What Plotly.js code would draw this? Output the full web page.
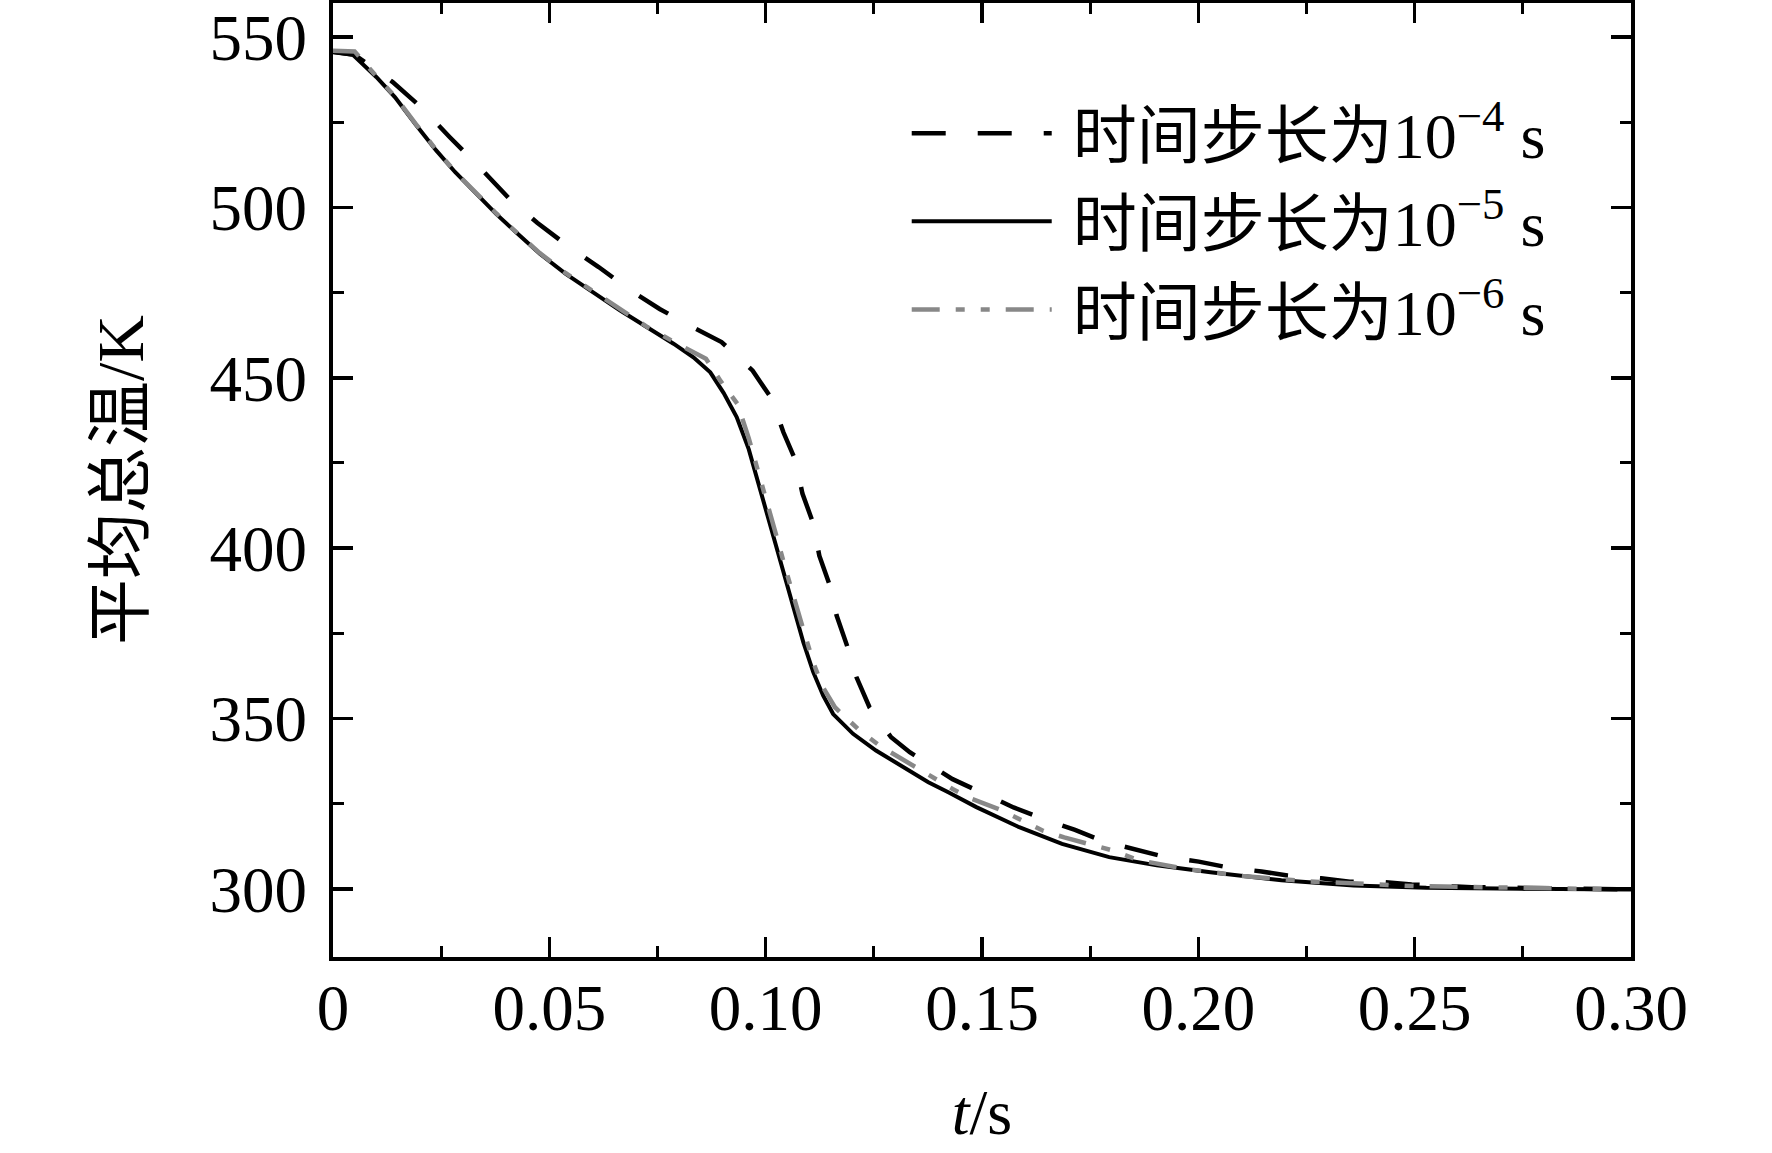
<!DOCTYPE html>
<html>
<head>
<meta charset="utf-8">
<script src="https://cdn.plot.ly/plotly-3.0.1.min.js"></script>
<style>
  html, body { margin: 0; padding: 0; background: #fff; }
  #chart { width: 1772px; height: 1153px; }
</style>
</head>
<body>
<div id="chart"></div>
<script>
// time step 1e-4 s (dashed)
const t4 = [0, 0.005, 0.0138, 0.0204, 0.027, 0.0335, 0.0408, 0.0472, 0.0547, 0.0614,
  0.0688, 0.0755, 0.0831, 0.0898, 0.097, 0.1014, 0.1041, 0.1069, 0.1085, 0.1109,
  0.1124, 0.1147, 0.1164, 0.1188, 0.121, 0.124, 0.129, 0.1333, 0.1432, 0.1499,
  0.1573, 0.1642, 0.1715, 0.1782, 0.1857, 0.1924, 0.2001, 0.2068, 0.2146, 0.2206,
  0.2284, 0.235, 0.2427, 0.2493, 0.2632, 0.28, 0.30];
const temp4 = [545.6, 544.8, 536.8, 529.4, 520.6, 512.3, 502.5, 495.5, 488.3, 482.5,
  475.6, 470.2, 464.9, 460.5, 452.1, 443.8, 434, 425.7, 416, 407.6,
  397.8, 389.5, 380.2, 371.4, 362.1, 353.3, 344.5, 340.1, 332.2, 328.3,
  323.9, 320.5, 317.3, 313.9, 311.4, 309.3, 308, 306.3, 305.1, 303.9,
  303.1, 302.1, 302, 301.3, 300.5, 300.2, 299.8];

// time step 1e-5 s (solid)
const t5 = [0, 0.0046, 0.01, 0.0143, 0.0192, 0.0238, 0.0282, 0.0331, 0.0377, 0.0423,
  0.0478, 0.0538, 0.0601, 0.0663, 0.0725, 0.0787, 0.0833, 0.0872, 0.0903, 0.0933,
  0.0961, 0.0995, 0.1018, 0.1041, 0.1064, 0.1087, 0.111, 0.1133, 0.1156, 0.1202,
  0.1255, 0.1309, 0.1376, 0.1421, 0.1487, 0.1586, 0.1685, 0.1794, 0.1904, 0.2028,
  0.2192, 0.2359, 0.2527, 0.2748, 0.30];
const temp5 = [545.6, 544.8, 538.3, 532.4, 524.2, 516.8, 510.4, 504, 498.1, 492.7,
  486.4, 480.5, 475.1, 469.8, 464.9, 460, 456, 451.6, 445.5, 438.5,
  429, 413.5, 403.7, 392.9, 382.2, 372.4, 363.6, 356.7, 351.3, 345.5,
  340.6, 336.6, 331.3, 328.4, 324, 318.1, 313.2, 309.3, 306.9, 304.9,
  302.5, 301, 300.3, 300, 299.8];

// time step 1e-6 s (grey dash-dot)
const t6 = [0, 0.005, 0.01, 0.0143, 0.0192, 0.0238, 0.0282, 0.0331, 0.0377, 0.0423,
  0.0478, 0.0538, 0.0601, 0.0663, 0.0725, 0.0803, 0.0862, 0.0896, 0.0935, 0.0961,
  0.0984, 0.0999, 0.1023, 0.1046, 0.1061, 0.1084, 0.111, 0.113, 0.116, 0.1217,
  0.1266, 0.1309, 0.137, 0.1432, 0.1477, 0.1539, 0.1586, 0.1642, 0.169, 0.1757,
  0.1801, 0.1862, 0.1973, 0.2102, 0.2252, 0.25, 0.275, 0.30];
const temp6 = [546, 545.8, 538.5, 532.6, 524.4, 517, 510.5, 504, 498.3, 492.8,
  486.6, 480.7, 475.3, 470, 465, 459.5, 455.6, 449, 442.3, 432.2,
  421.5, 414.4, 404.4, 393.9, 387, 377.4, 366.5, 359.7, 353.3, 346.5,
  341.8, 338.6, 333.7, 329.3, 326.4, 323.4, 320.5, 317, 315.1, 312.7,
  311.3, 308.4, 305.8, 303.8, 302.2, 300.8, 300.2, 299.8];

const seriesNames = [
  '\u00a0时间步长为10<sup>−4</sup> s',
  '\u00a0时间步长为10<sup>−5</sup> s',
  '\u00a0时间步长为10<sup>−6</sup> s'
];

const xTickVals = [0, 0.05, 0.10, 0.15, 0.20, 0.25, 0.30];
const xTickText = ['0', '0.05', '0.10', '0.15', '0.20', '0.25', '0.30'];
const yTickVals = [300, 350, 400, 450, 500, 550];

const serif = '"Liberation Serif", "Times New Roman", "Noto Sans CJK SC", serif';

const traces = [
  { x: t4, y: temp4, name: seriesNames[0], legendgroup: 'a', type: 'scatter', mode: 'lines',
    line: { color: '#000000', width: 4.5, dash: '34px,32px' } },
  { x: t5, y: temp5, name: seriesNames[1], legendgroup: 'b', type: 'scatter', mode: 'lines',
    line: { color: '#000000', width: 4 } },
  { x: t6, y: temp6, name: seriesNames[2], legendgroup: 'c', type: 'scatter', mode: 'lines',
    line: { color: '#888888', width: 4.5, dash: '28px,16px,9px,16px,9px,16px' } }
];

const axisCommon = {
  showgrid: false,
  zeroline: false,
  showline: true,
  linecolor: '#000000',
  linewidth: 4,
  mirror: 'allticks',
  ticks: 'inside',
  ticklen: 20,
  tickwidth: 3.5,
  tickcolor: '#000000',
  tickfont: { family: serif, size: 65, color: '#000000' }
};

const layout = {
  width: 1772,
  height: 1153,
  paper_bgcolor: '#ffffff',
  plot_bgcolor: '#ffffff',
  margin: { l: 333, r: 141, t: 3, b: 196 },
  showlegend: true,
  legend: {
    x: 0.442, y: 0.914, xanchor: 'left', yanchor: 'top',
    bgcolor: 'rgba(0,0,0,0)',
    borderwidth: 0,
    itemwidth: 140,
    traceorder: 'grouped',
    tracegroupgap: 2,
    font: { family: serif, size: 64, color: '#000000' }
  },
  xaxis: Object.assign({}, axisCommon, {
    range: [0, 0.30],
    tickmode: 'array',
    tickvals: xTickVals,
    ticktext: xTickText,
    ticklabelstandoff: -9,
    minor: { ticks: 'inside', dtick: 0.025, ticklen: 11, tickwidth: 3, tickcolor: '#000000' },
    title: { text: '<i>t</i>/s', font: { family: serif, size: 64, color: '#000000' }, standoff: 47 }
  }),
  yaxis: Object.assign({}, axisCommon, {
    range: [280, 560],
    tickmode: 'array',
    tickvals: yTickVals,
    ticklabelstandoff: 9,
    minor: { ticks: 'inside', dtick: 25, tick0: 300, ticklen: 11, tickwidth: 3, tickcolor: '#000000' },
    title: { text: '平均总温/K', font: { family: serif, size: 66, color: '#000000' }, standoff: 45 }
  })
};

Plotly.newPlot('chart', traces, layout, { staticPlot: true, displayModeBar: false });
</script>
</body>
</html>
